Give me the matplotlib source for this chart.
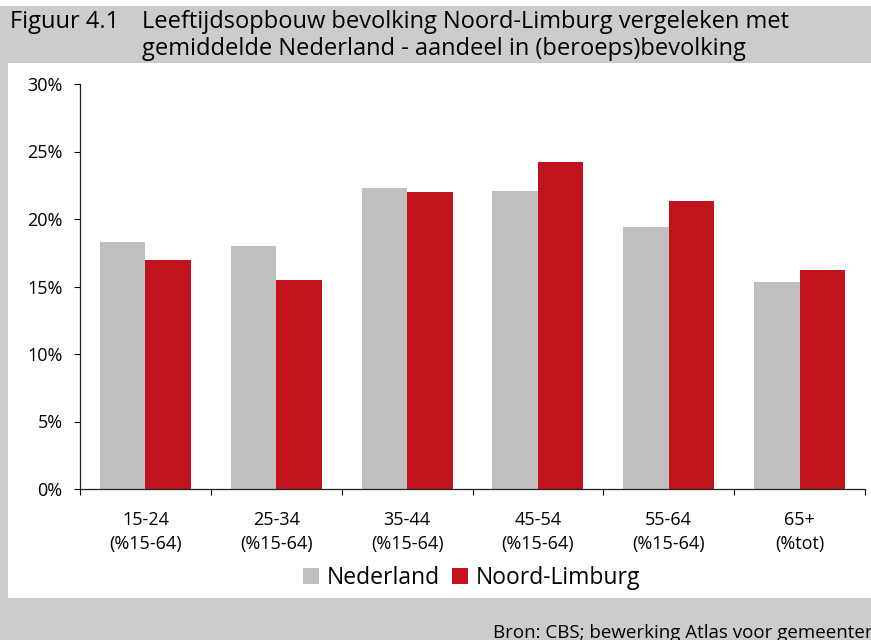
import numpy as np
import matplotlib
matplotlib.use("Agg")
import matplotlib.pyplot as plt
from matplotlib.patches import Rectangle

categories = ["15-24\n(%15-64)", "25-34\n(%15-64)", "35-44\n(%15-64)",
              "45-54\n(%15-64)", "55-64\n(%15-64)", "65+\n(%tot)"]
nederland = [18.3, 18.0, 22.3, 22.1, 19.4, 15.3]
noord_limburg = [17.0, 15.5, 22.0, 24.2, 21.3, 16.2]
yticks = [0, 5, 10, 15, 20, 25, 30]

W, H = 871, 640
GREY_BG = "#cccccc"
C_NL = "#bfbfbf"
C_NLB = "#c0131d"

plt.rcParams["font.family"] = ["Open Sans", "DejaVu Sans"]


def fx(x):
    return x / W


def fy(y):
    return 1 - y / H


fig = plt.figure(figsize=(W / 100, H / 100), dpi=100, facecolor=GREY_BG)

# white panel and thin white strip on top
fig.patches.append(Rectangle((fx(8), fy(598)), fx(W) - fx(8), (598 - 63) / H,
                             transform=fig.transFigure, facecolor="white",
                             edgecolor="none", zorder=-10))
fig.patches.append(Rectangle((0, fy(6)), 1, 6 / H, transform=fig.transFigure,
                             facecolor="white", edgecolor="none", zorder=-10))

# title
fig.text(fx(10), fy(28), "Figuur 4.1", fontsize=17, va="baseline", ha="left")
fig.text(fx(142), fy(28), "Leeftijdsopbouw bevolking Noord-Limburg vergeleken met",
         fontsize=17, va="baseline", ha="left")
fig.text(fx(142), fy(55), "gemiddelde Nederland - aandeel in (beroeps)bevolking",
         fontsize=17, va="baseline", ha="left")

ax = fig.add_axes([fx(80), fy(489), fx(865) - fx(80), (489 - 84) / H])
ax.set_facecolor("none")

x = np.arange(len(categories))
w = 0.348
b1 = ax.bar(x - w / 2, nederland, w, color=C_NL, label="Nederland")
b2 = ax.bar(x + w / 2, noord_limburg, w, color=C_NLB, label="Noord-Limburg")

ax.set_xlim(-0.5, len(categories) - 0.5)
ax.set_ylim(0, 30)
ax.set_yticks(yticks)
ax.set_yticklabels([f"{v}%" for v in yticks])

ax.set_xticks(np.arange(-0.5, len(categories), 1.0))
ax.set_xticklabels([])
ax.set_xticks(x, minor=True)
ax.set_xticklabels(categories, minor=True, linespacing=1.4)
ax.tick_params(axis="x", which="minor", length=0, pad=16, labelsize=13)
ax.tick_params(axis="x", which="major", direction="out", length=4, width=0.8)
ax.tick_params(axis="y", direction="out", length=4.5, width=0.8, pad=8, labelsize=13)

for s in ("top", "right"):
    ax.spines[s].set_visible(False)
for s in ("left", "bottom"):
    ax.spines[s].set_linewidth(0.9)
    ax.spines[s].set_color("#222222")

fig.legend(handles=[b1, b2], loc="center", bbox_to_anchor=(fx(471.5), fy(578)),
           ncol=2, frameon=False, fontsize=16.5, handlelength=0.7, handleheight=0.7,
           handletextpad=0.35, columnspacing=0.5, borderpad=0)

fig.text(fx(493), fy(638), "Bron: CBS; bewerking Atlas voor gemeenten",
         fontsize=13.5, va="baseline", ha="left")

fig.savefig("out.png", dpi=100, facecolor=GREY_BG)
